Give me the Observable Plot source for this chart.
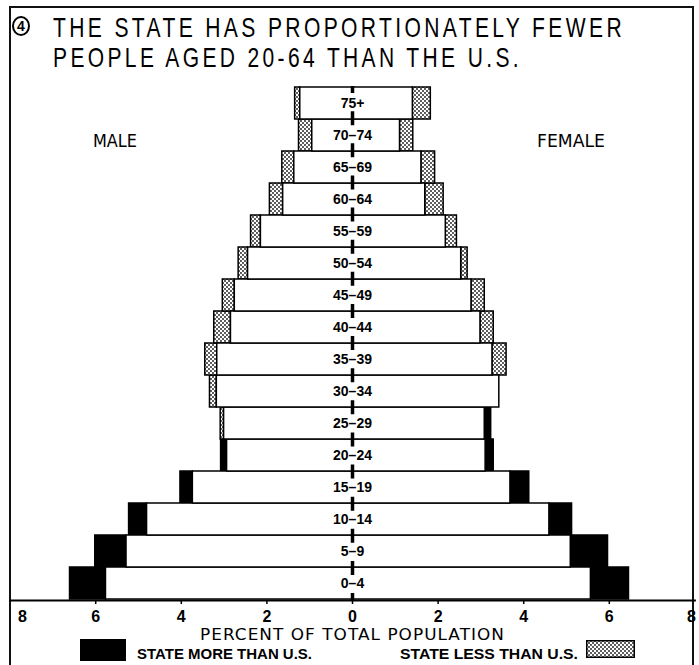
<!DOCTYPE html>
<html><head><meta charset="utf-8">
<script src="https://cdn.jsdelivr.net/npm/d3@7"></script>
<script src="https://cdn.jsdelivr.net/npm/@observablehq/plot@0.6"></script>
<style>
body{margin:0;background:#fff;}
#page{position:relative;width:699px;height:665px;overflow:hidden;background:#fff;font-family:"Liberation Sans",Arial,sans-serif;color:#000;}
#box{position:absolute;left:9px;top:6px;width:685px;height:720px;border:2px solid #111;box-sizing:border-box;}
.t{position:absolute;white-space:nowrap;line-height:1;transform-origin:0 0;display:inline-block;}
.title{font-size:28px;letter-spacing:4.5px;font-weight:normal;}
.sex{font-family:"DejaVu Sans",sans-serif;font-size:17px;}
.leg{font-size:15px;font-weight:bold;}
.xl{font-family:"DejaVu Sans",sans-serif;font-size:16px;letter-spacing:1px;}
#circ{position:absolute;left:12px;top:16px;width:18px;height:20px;border:2px solid #000;border-radius:50%;box-sizing:border-box;font-weight:bold;font-size:14px;line-height:16px;text-align:center;}
#chart{position:absolute;left:0;top:80px;}
</style></head><body>
<div id="page">
  <div id="box"></div>
  <div id="chart"></div>
  <div id="circ">4</div>
  <div class="t title" data-w="572" style="left:53px;top:13.5px;">THE STATE HAS PROPORTIONATELY FEWER</div>
  <div class="t title" data-w="469" style="left:53px;top:43.5px;">PEOPLE AGED 20-64 THAN THE U.S.</div>
  <div class="t sex" data-w="44" style="left:93px;top:133px;">MALE</div>
  <div class="t sex" data-w="68" style="left:537px;top:133px;">FEMALE</div>
  <div class="t xl" data-w="305" style="left:200px;top:627px;">PERCENT OF TOTAL POPULATION</div>
  <div style="position:absolute;left:80px;top:639px;width:46px;height:22px;background:#000;"></div>
  <div class="t leg" data-w="175" style="left:137px;top:646px;">STATE MORE THAN U.S.</div>
  <div class="t leg" data-w="178" style="left:400px;top:646px;">STATE LESS THAN U.S.</div>
  <svg style="position:absolute;left:586px;top:640px;" width="49" height="18">
    <defs><pattern id="stip2" width="4" height="4" patternUnits="userSpaceOnUse"><rect width="4" height="4" fill="#fff"/><circle cx="1" cy="1" r="0.9" fill="#111"/><circle cx="3" cy="3" r="0.9" fill="#111"/></pattern></defs>
    <rect x="0.75" y="0.75" width="47.5" height="16.5" fill="url(#stip2)" stroke="#000" stroke-width="1.5"/>
  </svg>
</div>
<script>
// Age groups (bottom to top)
const ages = ["0–4","5–9","10–14","15–19","20–24","25–29","30–34","35–39","40–44","45–49","50–54","55–59","60–64","65–69","70–74","75+"];
// Percent of total population
const stateMale   = [6.60, 6.01, 5.22, 4.02, 3.07, 3.00, 3.17, 3.16, 2.84, 2.75, 2.44, 2.14, 1.62, 1.36, 0.94, 1.22];
const usMale      = [5.76, 5.28, 4.80, 3.73, 2.93, 3.08, 3.33, 3.44, 3.23, 3.03, 2.66, 2.37, 1.93, 1.64, 1.25, 1.34];
const stateFemale = [6.46, 5.97, 5.13, 4.13, 3.30, 3.24, 3.43, 3.27, 2.99, 2.78, 2.54, 2.18, 1.70, 1.61, 1.11, 1.41];
const usFemale    = [5.57, 5.10, 4.60, 3.69, 3.11, 3.09, 3.43, 3.60, 3.30, 3.09, 2.69, 2.44, 2.13, 1.93, 1.42, 1.83];
const xTicks = [-8,-6,-4,-2,0,2,4,6,8];

const rows = ages.map((age,i)=>({age, sm:stateMale[i], um:usMale[i], sf:stateFemale[i], uf:usFemale[i]}));
const ext = rows.flatMap(r=>[
  {age:r.age, x1:-r.sm, x2:-r.um, more:r.sm>r.um},
  {age:r.age, x1:r.sf, x2:r.uf, more:r.sf>r.uf}
]).filter(d=>d.x1!==d.x2);

const H = 585, MT = 6, MB = 65;
const band = (H-MT-MB)/ages.length;

const chart = Plot.plot({
  width: 699, height: H,
  marginTop: MT, marginBottom: MB, marginLeft: 9.6, marginRight: 4.6,
  style: {background:"transparent", fontFamily:"'Liberation Sans', Arial, sans-serif", color:"#000", overflow:"visible"},
  x: {domain:[-8,8]},
  y: {domain: ages.slice().reverse(), padding: 0, axis: null},
  marks: [
    Plot.barX(ext.filter(d=>d.more), {x1:"x1", x2:"x2", y:"age", fill:"#000", stroke:"#000", strokeWidth:1.5}),
    Plot.barX(ext.filter(d=>!d.more), {x1:"x1", x2:"x2", y:"age", fill:"url(#stip)", stroke:"#000", strokeWidth:1.5}),
    Plot.barX(rows, {x1:d=>-Math.min(d.sm,d.um), x2:d=>Math.min(d.sf,d.uf), y:"age", fill:"#fff", stroke:"#000", strokeWidth:1.5}),
    Plot.ruleX([0], {stroke:"#000", strokeWidth:3.5, strokeDasharray:`7 ${band-14} 7 0`}),
    Plot.text(rows, {x:0, y:"age", text:"age", fontWeight:"bold", fontSize:14, fill:"#000"}),
    Plot.frame({anchor:"bottom", stroke:"#000", strokeWidth:2}),
    Plot.axisX(xTicks.filter(d=>Math.abs(d)<8), {tickFormat:d=>Math.abs(d), tickSize:4, tickPadding:6, fontSize:16, fontWeight:"bold", label:null, strokeWidth:1.5}),
    Plot.axisX([-8], {tickFormat:d=>Math.abs(d), tickSize:0, tickPadding:10, fontSize:16, fontWeight:"bold", label:null, textAnchor:"start", dx:8}),
    Plot.axisX([8], {tickFormat:d=>Math.abs(d), tickSize:0, tickPadding:10, fontSize:16, fontWeight:"bold", label:null, textAnchor:"end", dx:1})
  ]
});
const ns = "http://www.w3.org/2000/svg";
const defs = document.createElementNS(ns, "defs");
defs.innerHTML = '<pattern id="stip" width="4" height="4" patternUnits="userSpaceOnUse"><rect width="4" height="4" fill="#fff"/><circle cx="1" cy="1" r="0.9" fill="#111"/><circle cx="3" cy="3" r="0.9" fill="#111"/></pattern>';
chart.insertBefore(defs, chart.firstChild);
document.getElementById("chart").appendChild(chart);

// fit text widths
document.querySelectorAll("[data-w]").forEach(el=>{
  const w = el.getBoundingClientRect().width;
  const s = (+el.dataset.w)/w;
  el.style.transform = `scaleX(${s})`;
});
</script>
</body></html>
